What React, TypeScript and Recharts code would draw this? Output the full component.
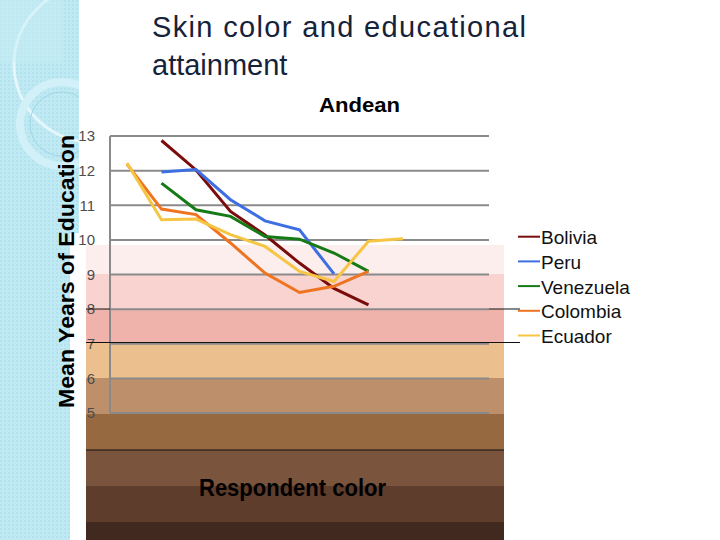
import { LineChart, Line, XAxis, YAxis, CartesianGrid, Legend } from "recharts";

// respondent skin colour categories (1 = lightest)
const colorCategories = ["1", "2", "3", "4", "5", "6", "7", "8", "9", "10", "11"];

const bolivia = [null, 12.87, 12.02, 10.82, 10.14, 9.33, 8.6, 8.12, null, null, null];
const peru = [null, 11.96, 12.03, 11.16, 10.55, 10.29, 9.02, null, null, null, null];
const venezuela = [null, 11.64, 10.87, 10.68, 10.1, 10.02, 9.62, 9.09, null, null, null];
const colombia = [12.19, 10.89, 10.73, 9.91, 9.04, 8.48, 8.66, 9.09, null, null, null];
const ecuador = [12.22, 10.58, 10.6, 10.15, 9.81, 9.09, 8.8, 9.96, 10.03, null, null];

const yTicks = [5, 6, 7, 8, 9, 10, 11, 12, 13];

const series = [
  { key: "Bolivia", values: bolivia, color: "#7a0c0c" },
  { key: "Peru", values: peru, color: "#3d6fe2" },
  { key: "Venezuela", values: venezuela, color: "#167a16" },
  { key: "Colombia", values: colombia, color: "#ee7422" },
  { key: "Ecuador", values: ecuador, color: "#f6c544" },
];

const data = colorCategories.map((c, i) => {
  const row: any = { color: c };
  series.forEach((s) => {
    row[s.key] = s.values[i];
  });
  return row;
});

// skin tone bands behind the plot (slide background)
const bands = [
  { top: 245, h: 29, fill: "#fdeeee" },
  { top: 274, h: 35, fill: "#f8d3d0" },
  { top: 309, h: 34, fill: "#f0b3ac" },
  { top: 343, h: 35, fill: "#ebc08e" },
  { top: 378, h: 36, fill: "#be8f6b" },
  { top: 414, h: 36, fill: "#976940" },
  { top: 450, h: 36, fill: "#7b543d" },
  { top: 486, h: 36, fill: "#5f3d2c" },
  { top: 522, h: 18, fill: "#42291f" },
];

const font = "'Liberation Sans', Arial, sans-serif";

const LegendBox = () => (
  <svg width={140} height={130}>
    {series.map((s, i) => (
      <g key={s.key}>
        <line x1={0} x2={22} y1={16.7 + i * 24.7} y2={16.7 + i * 24.7} stroke={s.color} strokeWidth={2} />
        <text x={23} y={24.3 + i * 24.7} fontSize={19} fontFamily={font} fill="#111">
          {s.key}
        </text>
      </g>
    ))}
  </svg>
);

export default function App() {
  return (
    <div style={{ position: "absolute", left: 0, top: 0, width: 720, height: 540, background: "#fff", overflow: "hidden" }}>
      <svg width={720} height={540} style={{ position: "absolute", left: 0, top: 0 }}>
        <defs>
          <pattern id="dots" width="4" height="4" patternUnits="userSpaceOnUse">
            <rect width="4" height="4" fill="#bfe9f3" />
            <rect width="2" height="2" fill="#b3e2ee" />
          </pattern>
          <clipPath id="strip">
            <rect x={0} y={0} width={79} height={540} />
          </clipPath>
        </defs>
        <rect x={0} y={0} width={79} height={233} fill="url(#dots)" />
        <rect x={0} y={233} width={70} height={307} fill="url(#dots)" />
        <g clipPath="url(#strip)" fill="none">
          <circle cx={92} cy={64} r={78} stroke="#e6f7fb" strokeWidth={3} />
          <circle cx={62} cy={124} r={42} stroke="#d2f0f7" strokeWidth={8} />
          <circle cx={62} cy={124} r={32} stroke="#9fd6e4" strokeWidth={1} />
          <rect x={0} y={0} width={62} height={62} fill="#c8edf6" opacity={0.5} />
        </g>
        {bands.map((b) => (
          <rect key={b.top} x={86} y={b.top} width={418} height={b.h} fill={b.fill} />
        ))}
      </svg>

      <div style={{ position: "absolute", left: 0, top: 0 }}>
        <LineChart width={720} height={540} data={data} margin={{ top: 136, right: 231, bottom: 127, left: 80 }}>
          <CartesianGrid vertical={false} stroke="#8a8a8a" strokeWidth={2} />
          <XAxis dataKey="color" hide padding={{ left: 17, right: 17 }} />
          <YAxis
            domain={[5, 13]}
            ticks={yTicks}
            width={30}
            tickLine={false}
            tickMargin={9}
            axisLine={{ stroke: "#8a8a8a", strokeWidth: 2 }}
            tick={{ fontSize: 15, fill: "#4d4d4d", fontFamily: font }}
            interval={0}
          />
          {series.map((s) => (
            <Line
              key={s.key}
              type="linear"
              dataKey={s.key}
              stroke={s.color}
              strokeWidth={3}
              dot={false}
              activeDot={false}
              isAnimationActive={false}
            />
          ))}
          <Legend
            layout="vertical"
            align="center"
            verticalAlign="middle"
            content={() => <LegendBox />}
            wrapperStyle={{ left: 518, top: 220, width: 140, right: "auto", bottom: "auto" }}
          />
        </LineChart>
      </div>

      <svg width={720} height={540} style={{ position: "absolute", left: 0, top: 0, pointerEvents: "none" }}>
        <line x1={489} x2={520} y1={309} y2={309} stroke="#111" strokeWidth={1} />
        <line x1={86} x2={110} y1={309} y2={309} stroke="#111" strokeWidth={1} />
        <line x1={86} x2={520} y1={342.5} y2={342.5} stroke="#111" strokeWidth={1} />
        <line x1={86} x2={504} y1={450} y2={450} stroke="#111" strokeWidth={1} />
        <text x={152} y={37} fontSize={29} fontFamily={font} fill="#15233a" textLength={374} lengthAdjust="spacing">
          Skin color and educational
        </text>
        <text x={152} y={75} fontSize={29} fontFamily={font} fill="#15233a">
          attainment
        </text>
        <text x={319} y={112} fontSize={21} fontWeight="bold" fontFamily={font} fill="#000" textLength={81} lengthAdjust="spacingAndGlyphs">
          Andean
        </text>
        <text
          transform="translate(74 271.5) rotate(-90)"
          textAnchor="middle"
          fontSize={22}
          fontWeight="bold"
          fontFamily={font}
          fill="#000"
          textLength={273}
          lengthAdjust="spacingAndGlyphs"
        >
          Mean Years of Education
        </text>
        <text x={199} y={496} fontSize={23} fontWeight="bold" fontFamily={font} fill="#000" textLength={187} lengthAdjust="spacingAndGlyphs">
          Respondent color
        </text>
      </svg>
    </div>
  );
}
